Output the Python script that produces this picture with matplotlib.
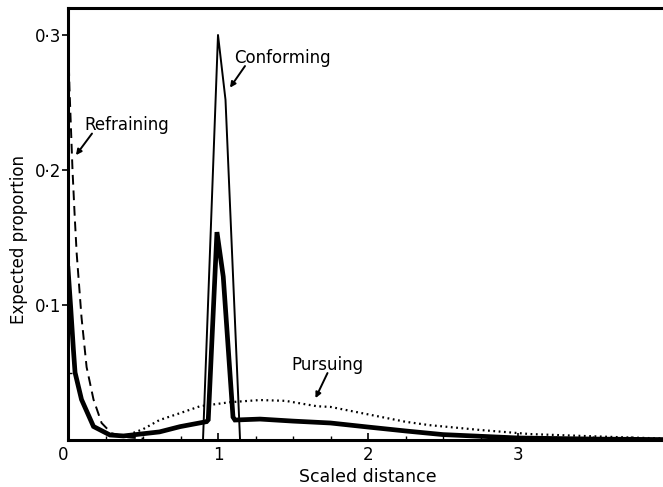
#!/usr/bin/env python3
import numpy as np
import matplotlib
matplotlib.use('Agg')
import matplotlib.pyplot as plt
from matplotlib.ticker import FixedLocator, MultipleLocator

plt.rcParams['font.family'] = ['DejaVu Sans']

# overall expected proportion (heavy line)
total_x = [0, 0.018, 0.036, 0.047, 0.09, 0.17, 0.28, 0.37, 0.61, 0.747, 0.924, 0.935,
           0.993, 1.035, 1.10, 1.113, 1.28, 1.5, 1.75, 2.0, 2.25, 2.5, 3.0, 3.5, 4.0]
total_y = [0.127, 0.098, 0.067, 0.05, 0.03, 0.01, 0.0037, 0.003, 0.006, 0.0099, 0.0136, 0.015,
           0.154, 0.121, 0.017, 0.0148, 0.0155, 0.014, 0.0126, 0.0096, 0.0067, 0.004, 0.0015, 0.0007, 0.0003]

# refraining (dashed)
refr_x = [0, 0.01, 0.02, 0.03, 0.045, 0.058, 0.09, 0.124, 0.17, 0.224, 0.29, 0.4, 0.5]
refr_y = [0.30, 0.26, 0.23, 0.20, 0.165, 0.138, 0.091, 0.054, 0.030, 0.0126, 0.005, 0.002, 0.001]

# conforming (thin)
conf_x = [0.9, 1.0, 1.05, 1.147]
conf_y = [0.0, 0.30, 0.252, 0.0]

# pursuing (dotted)
purs_x = [0.37, 0.5, 0.61, 0.75, 0.88, 1.08, 1.28, 1.45, 1.66, 1.75, 2.0, 2.25, 2.41,
          2.75, 3.08, 3.43, 3.7, 4.0]
purs_y = [0.0025, 0.008, 0.0148, 0.02, 0.025, 0.028, 0.0296, 0.029, 0.025, 0.0245, 0.019,
          0.0135, 0.011, 0.0074, 0.0044, 0.003, 0.002, 0.001]

xticks = [0, 1, 2, 3, 4]
xtick_labels = ['0', '1', '2', '3', '']
yticks = [0.1, 0.2, 0.3]
ytick_labels = ['0·1', '0·2', '0·3']

fig = plt.figure(figsize=(6.63, 4.87), dpi=100)
ax = fig.add_axes([68 / 663, 47 / 487, 600 / 663, 432 / 487])

ax.plot(total_x, total_y, color='black', lw=3.4, solid_joinstyle='miter', zorder=3)
ax.plot(refr_x, refr_y, color='black', lw=1.4, ls=(0, (5, 3)), zorder=2)
ax.plot(conf_x, conf_y, color='black', lw=1.4, zorder=2)
ax.plot(purs_x, purs_y, color='black', lw=1.6, ls=(0, (0.8, 1.6)), zorder=2)

ax.set_xlim(0, 4)
ax.set_ylim(0, 0.32)

for side in ['left', 'bottom', 'top']:
    ax.spines[side].set_linewidth(2.2)
ax.spines['right'].set_visible(False)

ax.xaxis.set_major_locator(FixedLocator(xticks))
ax.set_xticklabels(xtick_labels)
ax.get_xticklabels()[0].set_horizontalalignment('right')
ax.xaxis.set_minor_locator(MultipleLocator(0.25))
ax.yaxis.set_major_locator(FixedLocator(yticks))
ax.set_yticklabels(ytick_labels)
ax.yaxis.set_minor_locator(FixedLocator([0.05]))

ax.tick_params(axis='x', which='major', direction='in', length=5, width=1.2,
               labelsize=12, pad=4)
ax.tick_params(axis='x', which='minor', direction='in', length=3, width=1)
ax.tick_params(axis='y', which='major', direction='out', length=4, width=1.2,
               labelsize=12, pad=1)
ax.tick_params(axis='y', which='minor', direction='in', length=3, width=1)

ax.set_xlabel('Scaled distance', fontsize=12.5, labelpad=3)
ax.set_ylabel('Expected proportion', fontsize=12)
ax.yaxis.set_label_coords(-0.066, 0.463)

arrow = dict(arrowstyle='-|>', color='black', lw=1.4, mutation_scale=8,
             shrinkA=0, shrinkB=0)
ax.text(1.43, 0.283, 'Conforming', fontsize=12, ha='center', va='center')
ax.annotate('', xy=(1.08, 0.261), xytext=(1.18, 0.277), arrowprops=arrow)
ax.text(0.39, 0.233, 'Refraining', fontsize=12, ha='center', va='center')
ax.annotate('', xy=(0.053, 0.211), xytext=(0.16, 0.227), arrowprops=arrow)
ax.text(1.73, 0.0555, 'Pursuing', fontsize=12, ha='center', va='center')
ax.annotate('', xy=(1.65, 0.031), xytext=(1.73, 0.0496), arrowprops=arrow)

fig.savefig('out.png', dpi=100)
